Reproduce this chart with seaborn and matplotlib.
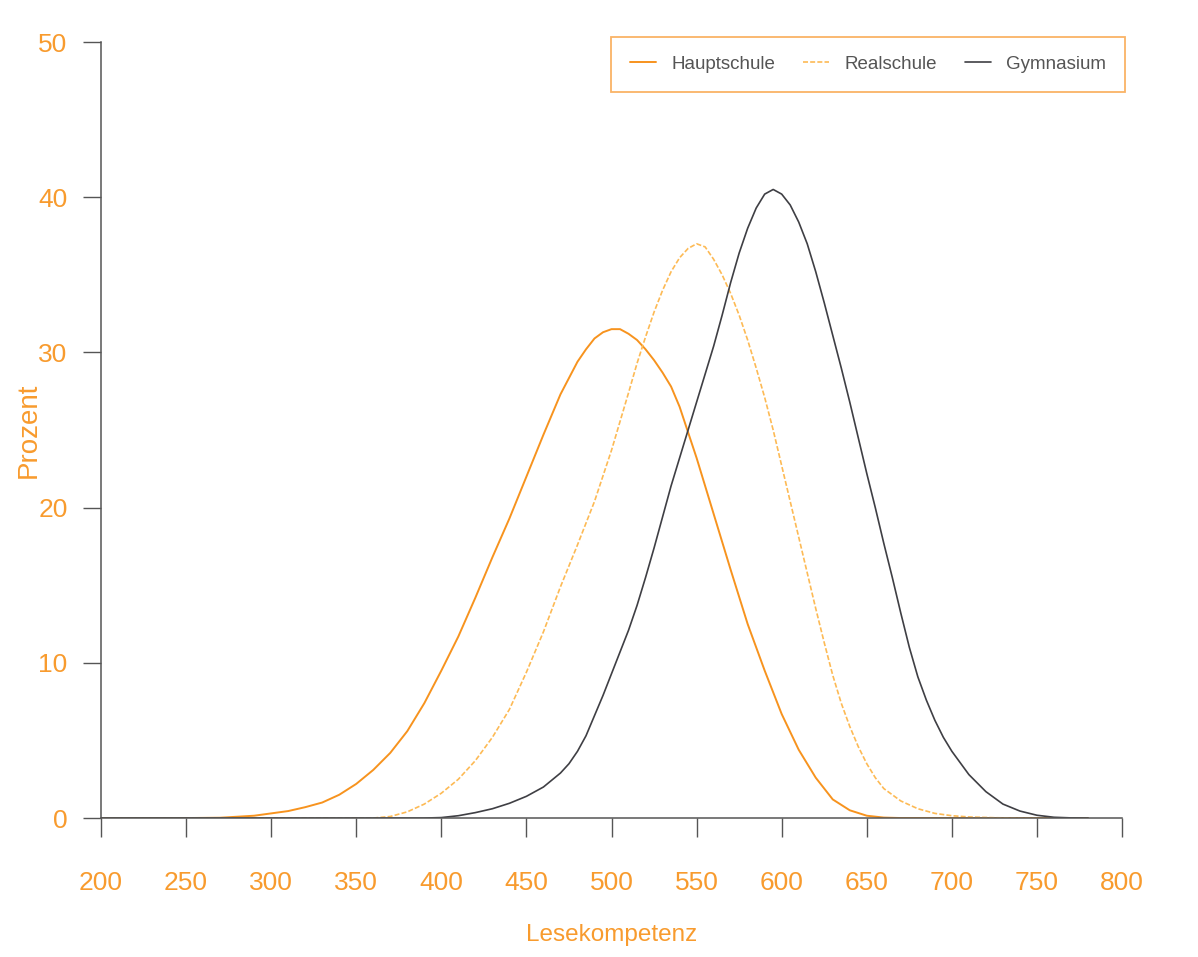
import matplotlib
matplotlib.use("Agg")
import matplotlib.pyplot as plt
from matplotlib import font_manager
import seaborn as sns

# ---------------- data ----------------
haupt_x = [200, 250, 270, 290, 300, 310, 320, 330, 340, 350, 360, 370, 380, 390, 400,
           410, 420, 430, 440, 450, 460, 470, 480, 485, 490, 495, 500, 505, 510, 515,
           520, 525, 530, 535, 540, 550, 560, 570, 580, 590, 600, 610, 620, 630, 640,
           650, 660, 670, 780]
haupt_y = [0, 0, 0.02, 0.15, 0.3, 0.45, 0.7, 1.0, 1.5, 2.2, 3.1, 4.2, 5.6, 7.4, 9.5,
           11.7, 14.2, 16.8, 19.3, 22.0, 24.7, 27.3, 29.4, 30.2, 30.9, 31.3, 31.5, 31.5, 31.2, 30.8,
           30.2, 29.5, 28.7, 27.8, 26.5, 23.2, 19.6, 16.0, 12.5, 9.5, 6.7, 4.4, 2.6, 1.2, 0.5,
           0.15, 0.03, 0, 0]

real_x = [200, 360, 370, 380, 390, 400, 410, 420, 430, 440, 450, 460, 470, 480, 490,
          500, 510, 515, 520, 525, 530, 535, 540, 545, 550, 555, 560, 565, 570, 575,
          580, 585, 590, 595, 600, 605, 610, 615, 620, 625, 630, 635, 640, 645, 650,
          655, 660, 670, 680, 690, 700, 710, 725, 740, 780]
real_y = [0, 0, 0.1, 0.4, 0.9, 1.6, 2.5, 3.7, 5.2, 7.0, 9.4, 12.0, 14.9, 17.6, 20.4,
          23.7, 27.4, 29.3, 31.0, 32.6, 34.0, 35.2, 36.1, 36.7, 37.0, 36.8, 36.0, 35.0, 33.8, 32.4,
          30.8, 29.0, 27.1, 25.0, 22.7, 20.4, 18.1, 15.8, 13.5, 11.3, 9.2, 7.4, 5.9, 4.6, 3.5,
          2.6, 1.9, 1.1, 0.6, 0.3, 0.15, 0.07, 0.02, 0, 0]

gym_x = [200, 390, 400, 410, 420, 430, 440, 450, 460, 470, 475, 480, 485, 490, 495,
         500, 505, 510, 515, 520, 525, 530, 535, 540, 545, 550, 555, 560, 565, 570,
         575, 580, 585, 590, 595, 600, 605, 610, 615, 620, 625, 630, 635, 640, 645,
         650, 655, 660, 665, 670, 675, 680, 685, 690, 695, 700, 710, 720, 730, 740,
         750, 760, 770, 780]
gym_y = [0, 0, 0.03, 0.15, 0.35, 0.6, 0.95, 1.4, 2.0, 2.9, 3.5, 4.3, 5.3, 6.6, 7.9,
         9.3, 10.7, 12.1, 13.7, 15.5, 17.4, 19.4, 21.4, 23.2, 25.0, 26.8, 28.6, 30.4, 32.4, 34.5,
         36.4, 38.0, 39.3, 40.2, 40.5, 40.2, 39.5, 38.4, 37.0, 35.2, 33.2, 31.1, 29.0, 26.8, 24.5,
         22.2, 20.0, 17.7, 15.5, 13.2, 11.0, 9.1, 7.6, 6.3, 5.2, 4.3, 2.8, 1.7, 0.9, 0.45,
         0.18, 0.05, 0.01, 0]

series_names = ["Hauptschule", "Realschule", "Gymnasium"]
x_ticks = [200, 250, 300, 350, 400, 450, 500, 550, 600, 650, 700, 750, 800]
y_ticks = [0, 10, 20, 30, 40, 50]
x_label = "Lesekompetenz"
y_label = "Prozent"

# ---------------- style ----------------
sns.set_theme(style="white")
installed = {f.name for f in font_manager.fontManager.ttflist}
family = "Liberation Sans Narrow" if "Liberation Sans Narrow" in installed else "Liberation Sans"
plt.rcParams["font.family"] = [family, "DejaVu Sans"]

ORANGE_TXT = "#F89B2E"
C_HAUPT = "#F7931E"
C_REAL = "#FDBA55"
C_GYM = "#3f3f44"
AXIS = "#555555"

fig = plt.figure(figsize=(11.98, 9.57), dpi=100)
fig.patch.set_facecolor("white")
ax = fig.add_axes([0.0843, 0.1452, 0.8523, 0.8109])

sns.lineplot(x=haupt_x, y=haupt_y, ax=ax, color=C_HAUPT, linewidth=1.4,
             label=series_names[0])
sns.lineplot(x=real_x, y=real_y, ax=ax, color=C_REAL, linewidth=1.2,
             linestyle=(0, (3, 1.3)), label=series_names[1])
sns.lineplot(x=gym_x, y=gym_y, ax=ax, color=C_GYM, linewidth=1.2,
             label=series_names[2])

ax.set_xlim(200, 800)
ax.set_ylim(0, 50)
ax.set_xticks(x_ticks)
ax.set_yticks(y_ticks)
ax.set_xticklabels([str(v) for v in x_ticks])
ax.set_yticklabels([str(v) for v in y_ticks])

for s in ["top", "right"]:
    ax.spines[s].set_visible(False)
for s in ["left", "bottom"]:
    ax.spines[s].set_color(AXIS)
    ax.spines[s].set_linewidth(1.1)

ax.tick_params(axis="x", direction="out", length=14, width=1.0, color=AXIS,
               pad=24, labelsize=19, labelcolor=ORANGE_TXT, bottom=True)
ax.tick_params(axis="y", direction="out", length=13, width=1.0, color=AXIS,
               pad=11, labelsize=19, labelcolor=ORANGE_TXT, left=True)

ax.set_xlabel(x_label, fontsize=17.5, color=ORANGE_TXT)
ax.set_ylabel(y_label, fontsize=20, color=ORANGE_TXT)
ax.xaxis.set_label_coords(0.5, -0.137)
ax.yaxis.set_label_coords(-0.058, 0.5)

leg = ax.legend(loc="upper left", bbox_to_anchor=(0.4995, 1.0064),
                ncol=3, frameon=True, fancybox=False,
                fontsize=13.5, handlelength=1.4, handletextpad=0.8,
                columnspacing=1.5, borderpad=1.0, borderaxespad=0)
leg.get_frame().set_edgecolor("#F9A040")
leg.get_frame().set_linewidth(1.3)
leg.get_frame().set_facecolor("white")
for t in leg.get_texts():
    t.set_color("#555555")

fig.savefig("out.png", dpi=100, facecolor="white")
